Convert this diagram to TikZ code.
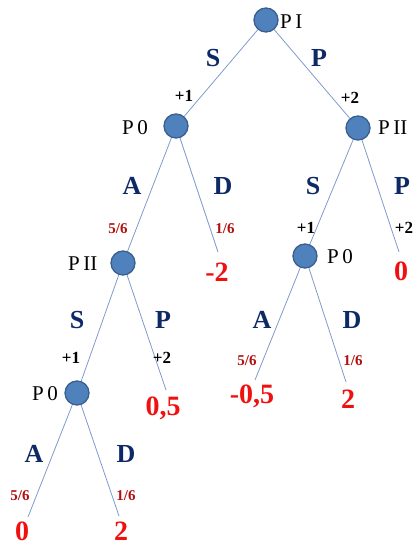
\documentclass[tikz,border=0pt]{standalone}
\usepackage{fontspec}
\setmainfont{Liberation Serif}
\definecolor{nodefill}{HTML}{4F81BD}
\definecolor{nodeline}{HTML}{3A5F8E}
\definecolor{edgecol}{HTML}{7F9ACB}
\definecolor{actcol}{HTML}{0E2A66}
\definecolor{paycol}{HTML}{F01010}
\definecolor{probcol}{HTML}{B01010}
\tikzset{
  dnode/.style={circle,fill=nodefill,draw=nodeline,line width=1.3pt,minimum size=24pt,inner sep=0pt},
  edge/.style={draw=edgecol,line width=0.8pt},
  act/.style={anchor=base,inner sep=0pt,text=actcol,font=\fontsize{26}{26}\selectfont\bfseries},
  pay/.style={anchor=base,inner sep=0pt,text=paycol,font=\fontsize{28}{28}\selectfont\bfseries},
  prob/.style={anchor=base,inner sep=0pt,text=probcol,font=\fontsize{15}{15}\selectfont\bfseries},
  gain/.style={anchor=base,inner sep=0pt,text=black,font=\fontsize{17}{17}\selectfont\bfseries},
  plab/.style={anchor=base west,inner sep=0pt,text=black,font=\fontsize{21}{21}\selectfont}
}
\begin{document}
\begin{tikzpicture}[x=1pt,y=-1pt]
\useasboundingbox (0,0) rectangle (416,545);
% decision nodes
\node[dnode] (n0) at (266,20) {};
\node[dnode] (n1) at (176,126) {};
\node[dnode] (n2) at (358,128) {};
\node[dnode] (n3) at (123,263) {};
\node[dnode] (n4) at (305,256) {};
\node[dnode] (n5) at (77,393) {};
% terminal ends
\coordinate (t1) at (218,252);
\coordinate (t2) at (399,252);
\coordinate (t3) at (166,390);
\coordinate (t4) at (255,380);
\coordinate (t5) at (346,382);
\coordinate (t6) at (28,517);
\coordinate (t7) at (119,516);
% edges
\draw[edge] (n0) -- (n1);
\draw[edge] (n0) -- (n2);
\draw[edge] (n1) -- (n3);
\draw[edge] (n1) -- (t1);
\draw[edge] (n2) -- (n4);
\draw[edge] (n2) -- (t2);
\draw[edge] (n3) -- (n5);
\draw[edge] (n3) -- (t3);
\draw[edge] (n4) -- (t4);
\draw[edge] (n4) -- (t5);
\draw[edge] (n5) -- (t6);
\draw[edge] (n5) -- (t7);
% player labels
\node[plab] (l0) at (280,29) {P\,I};
\node[plab] (l1) at (122,135) {P\,0};
\node[plab] (l2) at (378,135) {P\,II};
\node[plab] (l3) at (68,270) {P\,II};
\node[plab] (l4) at (327,263) {P\,0};
\node[plab] (l5) at (32,400) {P\,0};
% action labels
\node[act] (a1) at (213,67) {S};
\node[act] (a2) at (319,67) {P};
\node[act] (a3) at (132,195) {A};
\node[act] (a4) at (223,195) {D};
\node[act] (a5) at (313,195) {S};
\node[act] (a6) at (402,195) {P};
\node[act] (a7) at (77,328) {S};
\node[act] (a8) at (163,328) {P};
\node[act] (a9) at (262,328) {A};
\node[act] (a10) at (352,328) {D};
\node[act] (a11) at (34,462) {A};
\node[act] (a12) at (126,462) {D};
% gains
\node[gain] (g1) at (184,102) {+1};
\node[gain] (g2) at (350,104) {+2};
\node[gain] (g3) at (306,233) {+1};
\node[gain] (g4) at (404,233) {+2};
\node[gain] (g5) at (71,363) {+1};
\node[gain] (g6) at (162,363) {+2};
% probabilities
\node[prob] (p1) at (118,233) {5/6};
\node[prob] (p2) at (225,233) {1/6};
\node[prob] (p3) at (247,365) {5/6};
\node[prob] (p4) at (353,365) {1/6};
\node[prob] (p5) at (20,500) {5/6};
\node[prob] (p6) at (126,500) {1/6};
% payoffs
\node[pay] (v1) at (217,281) {-2};
\node[pay] (v2) at (401,280) {0};
\node[pay] (v3) at (163,415) {0,5};
\node[pay] (v4) at (252,403) {-0,5};
\node[pay] (v5) at (348,408) {2};
\node[pay] (v6) at (22,540) {0};
\node[pay] (v7) at (121,540) {2};
\end{tikzpicture}
\end{document}
